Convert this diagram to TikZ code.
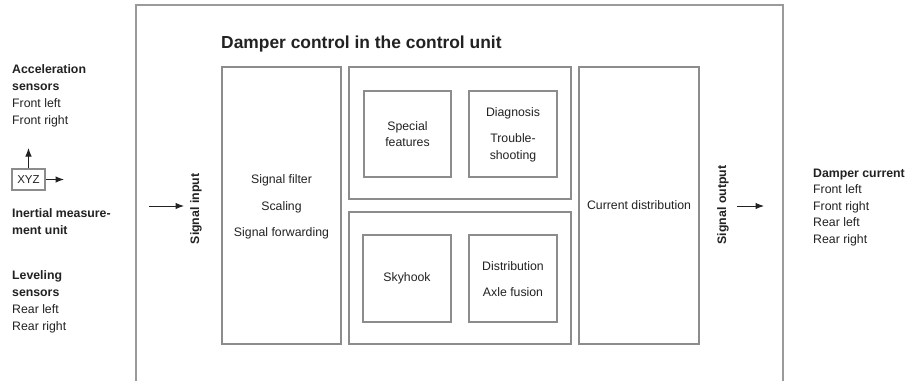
\documentclass[tikz,border=0pt]{standalone}
\usepackage{fontspec}
\setmainfont{Liberation Sans}
\usetikzlibrary{arrows.meta}
\definecolor{boxline}{HTML}{8C8C8C}
\definecolor{frameline}{HTML}{9A9A9A}
\definecolor{txt}{HTML}{222222}
\begin{document}
\begin{tikzpicture}[x=1pt,y=-1pt,
  every node/.style={text=txt, font=\fontsize{12.3}{17}\selectfont, inner sep=0pt},
  blk/.style={draw=boxline, line width=1.3pt, align=center},
  lbl/.style={align=left, anchor=base west},
  arr/.style={draw=txt, line width=1pt, -{Latex[length=8.5pt,width=6.5pt]}},
  ttl/.style={font=\bfseries\fontsize{17.4}{20}\selectfont, anchor=base west}
]
\useasboundingbox[fill=white] (0,0) rectangle (905,381);
% outer frame (open at the bottom)
\draw[frameline, line width=1.8pt] (136,381) -- (136,5) -- (783,5) -- (783,381);
\node[ttl] (title) at (221,48) {Damper control in the control unit};

% main boxes
\node[blk, minimum width=119pt, minimum height=277pt] (filt) at (281.5,205.5) {};
\node[align=center, font=\fontsize{12.3}{26.5}\selectfont] (filttxt) at (281.5,207) {Signal filter\\Scaling\\Signal forwarding};
\node[blk, minimum width=222pt, minimum height=132pt] (upper) at (460,133) {};
\node[blk, minimum width=222pt, minimum height=132pt] (lower) at (460,278) {};
\node[blk, minimum width=120pt, minimum height=277pt] (curr) at (639,205.5) {Current distribution};

\node[blk, minimum width=87pt, minimum height=86pt, font=\fontsize{12.3}{16}\selectfont] (spec) at (407.5,134) {Special\\features};
\node[blk, minimum width=88pt, minimum height=86pt] (diag) at (513,134) {};
\node[align=center] (diagtxt) at (513,113) {Diagnosis};
\node[align=center, font=\fontsize{12.3}{17}\selectfont] (troub) at (513,147.5) {Trouble-\\shooting};
\node[blk, minimum width=88pt, minimum height=87pt] (sky) at (407,278.5) {Skyhook};
\node[blk, minimum width=88pt, minimum height=87pt] (dist) at (513,278.5) {};
\node[align=center, font=\fontsize{12.3}{26}\selectfont] (disttxt) at (513,279) {Distribution\\Axle fusion};

% signal input / output
\node[rotate=90, font=\bfseries\fontsize{12.3}{14}\selectfont] (sigin) at (196,209) {Signal input};
\node[rotate=90, font=\bfseries\fontsize{12.3}{14}\selectfont] (sigout) at (723,205) {Signal output};
\coordinate (inA) at (149,206);
\coordinate (inB) at (184,206);
\draw[arr] (inA) -- (inB);
\coordinate (outA) at (737,206);
\coordinate (outB) at (764,206);
\draw[arr] (outA) -- (outB);

% left labels
\node[lbl] (acc) at (12,124) {\textbf{Acceleration}\\\textbf{sensors}\\Front left\\Front right};
\node[draw=boxline, line width=1.2pt, minimum width=33pt, minimum height=21pt, font=\fontsize{11.5}{13}\selectfont] (xyz) at (28.5,179.5) {XYZ};
\coordinate (xyzup) at (xyz.north |- 0,148);
\coordinate (xyzright) at (64,179.5);
\draw[arr] (xyz.north) -- (xyzup);
\draw[arr] (xyz.east) -- (xyzright);
\node[lbl] (imu) at (12,234) {\textbf{Inertial measure-}\\\textbf{ment unit}};
\node[lbl] (lev) at (12,330) {\textbf{Leveling}\\\textbf{sensors}\\Rear left\\Rear right};

% right labels
\node[lbl, font=\fontsize{12.3}{16.5}\selectfont] (damp) at (813,243) {\textbf{Damper current}\\Front left\\Front right\\Rear left\\Rear right};
\end{tikzpicture}
\end{document}
